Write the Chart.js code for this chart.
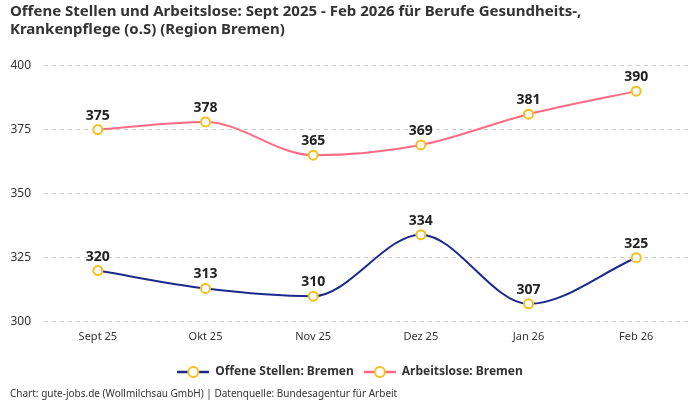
<!DOCTYPE html>
<html>
<head>
<meta charset="utf-8">
<script src="https://cdn.jsdelivr.net/npm/chart.js@4"></script>
<style>
  html, body { margin: 0; padding: 0; background: #fff; }
  #wrap { width: 700px; height: 400px; }
</style>
</head>
<body>
<div id="wrap"><canvas id="chart"></canvas></div>
<script>
const months = ['Sept 25', 'Okt 25', 'Nov 25', 'Dez 25', 'Jan 26', 'Feb 26'];
const offeneStellen = [320, 313, 310, 334, 307, 325];
const arbeitslose = [375, 378, 365, 369, 381, 390];
const yTicks = [300, 325, 350, 375, 400];

const FONT = "'Noto Sans', sans-serif";
const TEXT = '#333333';

// legend marker: short line with a ring in the middle
function legendMarker(color) {
    const c = document.createElement('canvas');
    c.width = 32; c.height = 14;
    const g = c.getContext('2d');
    g.strokeStyle = color; g.lineWidth = 2.5;
    g.beginPath(); g.moveTo(0, 7); g.lineTo(32, 7); g.stroke();
    g.beginPath(); g.arc(16, 7, 5, 0, Math.PI * 2);
    g.fillStyle = '#fff'; g.fill();
    g.lineWidth = 2;
    g.strokeStyle = '#f6c01b'; g.stroke();
    return c;
}

// values above each point
const valueLabels = {
    id: 'valueLabels',
    afterDatasetsDraw(chart) {
        const ctx = chart.ctx;
        ctx.save();
        ctx.font = `bold 14px ${FONT}`;
        ctx.fillStyle = '#222';
        ctx.textAlign = 'center';
        ctx.textBaseline = 'bottom';
        chart.data.datasets.forEach((ds, i) => {
            chart.getDatasetMeta(i).data.forEach((pt, j) => {
                ctx.fillText(ds.data[j], pt.x, pt.y - 7);
            });
        });
        ctx.restore();
    }
};

new Chart(document.getElementById('chart'), {
    type: 'line',
    data: {
        labels: months,
        datasets: [
            {
                label: 'Offene Stellen: Bremen',
                data: offeneStellen,
                borderColor: '#1b2a8a',
                borderWidth: 2
            },
            {
                label: 'Arbeitslose: Bremen',
                data: arbeitslose,
                borderColor: '#ff6b84',
                borderWidth: 2
            }
        ].map(ds => Object.assign(ds, {
            cubicInterpolationMode: 'monotone',
            pointRadius: 4.5,
            pointBorderWidth: 2,
            pointBackgroundColor: '#fff',
            pointBorderColor: '#f6c01b',
            pointHoverRadius: 4.5
        }))
    },
    options: {
        responsive: true,
        maintainAspectRatio: false,
        animation: false,
        layout: { padding: { left: 10, right: 10, top: 0, bottom: 0 } },
        scales: {
            x: {
                offset: true,
                afterFit: axis => { axis.height += 13; },
                grid: { display: false },
                border: { display: false },
                ticks: { color: TEXT, font: { family: FONT, size: 11 }, padding: 0 }
            },
            y: {
                min: 300,
                max: 400,
                afterBuildTicks: axis => { axis.ticks = yTicks.map(v => ({ value: v })); },
                afterFit: axis => { axis.width = 34; },
                grid: { color: '#cccccc', drawTicks: false },
                border: { display: false, dash: [4, 4] },
                ticks: { color: TEXT, font: { family: FONT, size: 12 }, padding: 13 }
            }
        },
        plugins: {
            title: {
                display: true,
                align: 'start',
                text: ['Offene Stellen und Arbeitslose: Sept 2025 - Feb 2026 für Berufe Gesundheits-,',
                       'Krankenpflege (o.S) (Region Bremen)'],
                color: TEXT,
                font: { family: FONT, size: 15, weight: 'bold', lineHeight: 1.25 },
                padding: { top: 2, bottom: 26 }
            },
            subtitle: {
                display: true,
                position: 'bottom',
                align: 'start',
                text: 'Chart: gute-jobs.de (Wollmilchsau GmbH) | Datenquelle: Bundesagentur für Arbeit',
                color: TEXT,
                font: { family: FONT, size: 10 },
                padding: { top: 0, bottom: 0 }
            },
            legend: {
                position: 'bottom',
                labels: {
                    usePointStyle: true,
                    pointStyleWidth: 32,
                    boxHeight: 14,
                    color: TEXT,
                    font: { family: FONT, size: 12, weight: 'bold' },
                    padding: 10,
                    generateLabels(chart) {
                        return chart.data.datasets.map((ds, i) => ({
                            text: ds.label,
                            pointStyle: legendMarker(ds.borderColor),
                            fontColor: TEXT,
                            strokeStyle: ds.borderColor,
                            lineWidth: 0,
                            datasetIndex: i
                        }));
                    }
                }
            },
            tooltip: { enabled: false }
        }
    },
    plugins: [valueLabels]
});
</script>
</body>
</html>
